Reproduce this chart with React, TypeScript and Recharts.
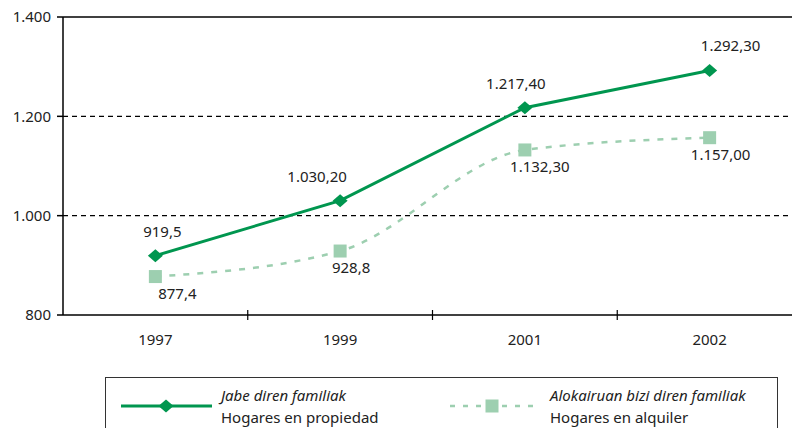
import { LineChart, Line, XAxis, YAxis, ReferenceLine } from 'recharts'

const years = ['1997', '1999', '2001', '2002']
const owners = [919.5, 1030.2, 1217.4, 1292.3]
const renters = [877.4, 928.8, 1132.3, 1157.0]
const ownerLabels = ['919,5', '1.030,20', '1.217,40', '1.292,30']
const renterLabels = ['877,4', '928,8', '1.132,30', '1.157,00']
const yTicks = [800, 1000, 1200, 1400]

const DARK = '#00964f'
const LIGHT = '#9dcfb0'
const FONT = '"Noto Sans", sans-serif'
const FS = 15

const data = years.map((y, i) => ({ idx: i, year: y, owners: owners[i], renters: renters[i] }))

// label nudges, px
const ownerDx = [7, -23, -9, 21]
const renterDx = [22, 11, 15, 11]

function Diamond({ cx, cy }: any) {
  return <path d={`M${cx - 7.5},${cy} L${cx},${cy - 6.5} L${cx + 7.5},${cy} L${cx},${cy + 6.5} Z`} fill={DARK} />
}

function Square({ cx, cy }: any) {
  return <rect x={cx - 6.5} y={cy - 6.5} width={13} height={13} fill={LIGHT} />
}

function XTick({ x, y, payload }: any) {
  const v = payload.value
  if (Number.isInteger(v)) {
    return (
      <text x={x} y={y + 30} textAnchor="middle" fontSize={FS} fill="#222" fontFamily={FONT}>
        {years[v]}
      </text>
    )
  }
  return <line x1={x} x2={x} y1={y - 5} y2={y + 5} stroke="#000" strokeWidth={1.2} />
}

function makeLabel(texts: string[], dxs: number[], dy: number) {
  return ({ x, y, index }: any) => (
    <text
      x={x + dxs[index]}
      y={y + dy}
      textAnchor="middle"
      dominantBaseline="central"
      fontSize={FS}
      fill="#222"
      fontFamily={FONT}
    >
      {texts[index]}
    </text>
  )
}

function LegendBox() {
  return (
    <div
      style={{
        position: 'absolute',
        left: 105,
        top: 377,
        width: 673,
        height: 70,
        border: '1px solid #333',
        boxSizing: 'border-box',
        fontFamily: FONT,
        fontSize: FS,
        color: '#222',
      }}
    >
      <svg width={460} height={40} style={{ position: 'absolute', left: 0, top: 8 }}>
        <line x1={15} x2={106} y1={20} y2={20} stroke={DARK} strokeWidth={3} />
        <Diamond cx={60} cy={20} />
        <line x1={344} x2={434} y1={20} y2={20} stroke={LIGHT} strokeWidth={2.5} strokeDasharray="5 8" />
        <Square cx={386} cy={20} />
      </svg>
      <div style={{ position: 'absolute', left: 115, top: 6, lineHeight: '22px' }}>
        <div style={{ fontStyle: 'italic' }}>Jabe diren familiak</div>
        <div>Hogares en propiedad</div>
      </div>
      <div style={{ position: 'absolute', left: 444, top: 6, lineHeight: '22px' }}>
        <div style={{ fontStyle: 'italic' }}>Alokairuan bizi diren familiak</div>
        <div>Hogares en alquiler</div>
      </div>
    </div>
  )
}

export default function App() {
  return (
    <div style={{ position: 'absolute', left: 0, top: 0, width: 792, height: 428, overflow: 'hidden', background: '#fff' }}>
      <LineChart width={812} height={428} data={data} margin={{ top: 17, right: 10, left: 0, bottom: 83 }}>
        <ReferenceLine y={1000} stroke="#000" strokeWidth={1.3} strokeDasharray="5 4" />
        <ReferenceLine y={1200} stroke="#000" strokeWidth={1.3} strokeDasharray="5 4" />
        <ReferenceLine y={1400} stroke="#000" strokeWidth={1.5} />
        <XAxis
          type="number"
          dataKey="idx"
          domain={[-0.5, 3.5]}
          ticks={[0, 0.5, 1, 1.5, 2, 2.5, 3]}
          interval={0}
          tickLine={false}
          tickSize={0}
          tickMargin={0}
          height={30}
          axisLine={{ stroke: '#000', strokeWidth: 1.5 }}
          tick={<XTick />}
        />
        <YAxis
          domain={[800, 1400]}
          ticks={yTicks}
          width={63}
          tickSize={6}
          tickMargin={6}
          axisLine={{ stroke: '#000', strokeWidth: 1.5 }}
          tickLine={{ stroke: '#000', strokeWidth: 1.5 }}
          tick={{ fontSize: FS, fill: '#222', fontFamily: FONT }}
          tickFormatter={v => v.toLocaleString('de-DE')}
        />
        <Line
          type="monotone"
          dataKey="renters"
          stroke={LIGHT}
          strokeWidth={2.5}
          strokeDasharray="6 8"
          dot={<Square />}
          activeDot={false}
          label={makeLabel(renterLabels, renterDx, 16)}
          isAnimationActive={false}
        />
        <Line
          type="linear"
          dataKey="owners"
          stroke={DARK}
          strokeWidth={3}
          dot={<Diamond />}
          activeDot={false}
          label={makeLabel(ownerLabels, ownerDx, -25)}
          isAnimationActive={false}
        />
      </LineChart>
      <LegendBox />
    </div>
  )
}
